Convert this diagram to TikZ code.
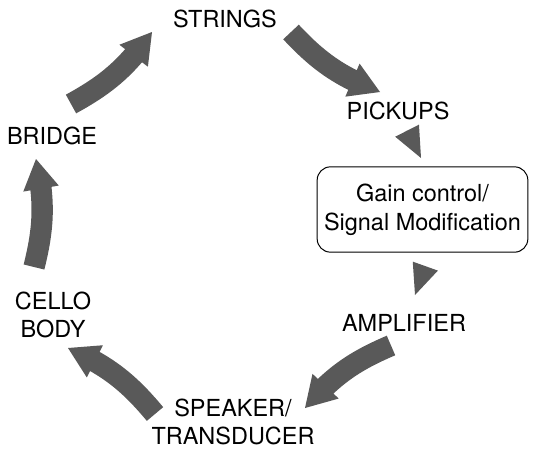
\documentclass[tikz,border=0pt]{standalone}
\usepackage{fontspec}
\setmainfont{TeX Gyre Heros}
\usetikzlibrary{arrows.meta,bending}

\tikzset{
  label/.style={font=\fontsize{17.6pt}{21.5pt}\selectfont, align=center, inner sep=0pt},
  flow/.style={color={rgb, 255:red, 89; green, 89; blue, 89}, line width=16pt,
    -{Triangle[length=22.5pt,width=27pt,line width=0pt,flex]}},
  nib/.style={color={rgb, 255:red, 89; green, 89; blue, 89}, line width=0.5pt,
    -{Triangle[length=23pt,width=20pt,line width=0pt]}}
}

\begin{document}
\begin{tikzpicture}[x=0.75pt,y=0.75pt,yscale=-1,xscale=1]
\useasboundingbox (0,0) rectangle (541,457);

% Text Node
\node[label] (strings) at (225,18.5) {STRINGS};
% Text Node
\node[label] (pickups) at (398,111) {PICKUPS};
% Text Node
\node[label, draw, color=black, line width=0.75pt, rounded corners=10pt,
  minimum width=158pt, minimum height=64pt] (gain) at (422.5,209.5) {Gain control/\\Signal Modification};
% Text Node
\node[label] (amp) at (404,323) {AMPLIFIER};
% Text Node
\node[label] (speaker) at (233,422) {SPEAKER/\\TRANSDUCER};
% Text Node
\node[label] (body) at (53,315) {CELLO\\BODY};
% Text Node
\node[label] (bridge) at (52,135.5) {BRIDGE};

% arrow ends
\coordinate (bs0) at (71,104);   \coordinate (bs1) at (152,32);
\coordinate (sp0) at (291,32);   \coordinate (sp1) at (380,92);
\coordinate (pg0) at (407,130.5); \coordinate (pg1) at (421,158);
\coordinate (ga0) at (425,267);  \coordinate (ga1) at (415,295);
\coordinate (as0) at (391,345.5); \coordinate (as1) at (305,408);
\coordinate (sb0) at (155,414);  \coordinate (sb1) at (68,348);
\coordinate (cb0) at (34,267);   \coordinate (cb1) at (36,159);

%Curve Lines
\draw[flow] (bs0) to[bend left=13] (bs1);
%Curve Lines
\draw[flow] (sp0) to[bend left=13] (sp1);
%Straight Lines
\draw[nib] (pg0) -- (pg1);
%Straight Lines
\draw[nib] (ga0) -- (ga1);
%Curve Lines
\draw[flow] (as0) to[bend left=13] (as1);
%Curve Lines
\draw[flow] (sb0) to[bend left=13] (sb1);
%Curve Lines
\draw[flow] (cb0) to[bend left=13] (cb1);

\end{tikzpicture}
\end{document}
